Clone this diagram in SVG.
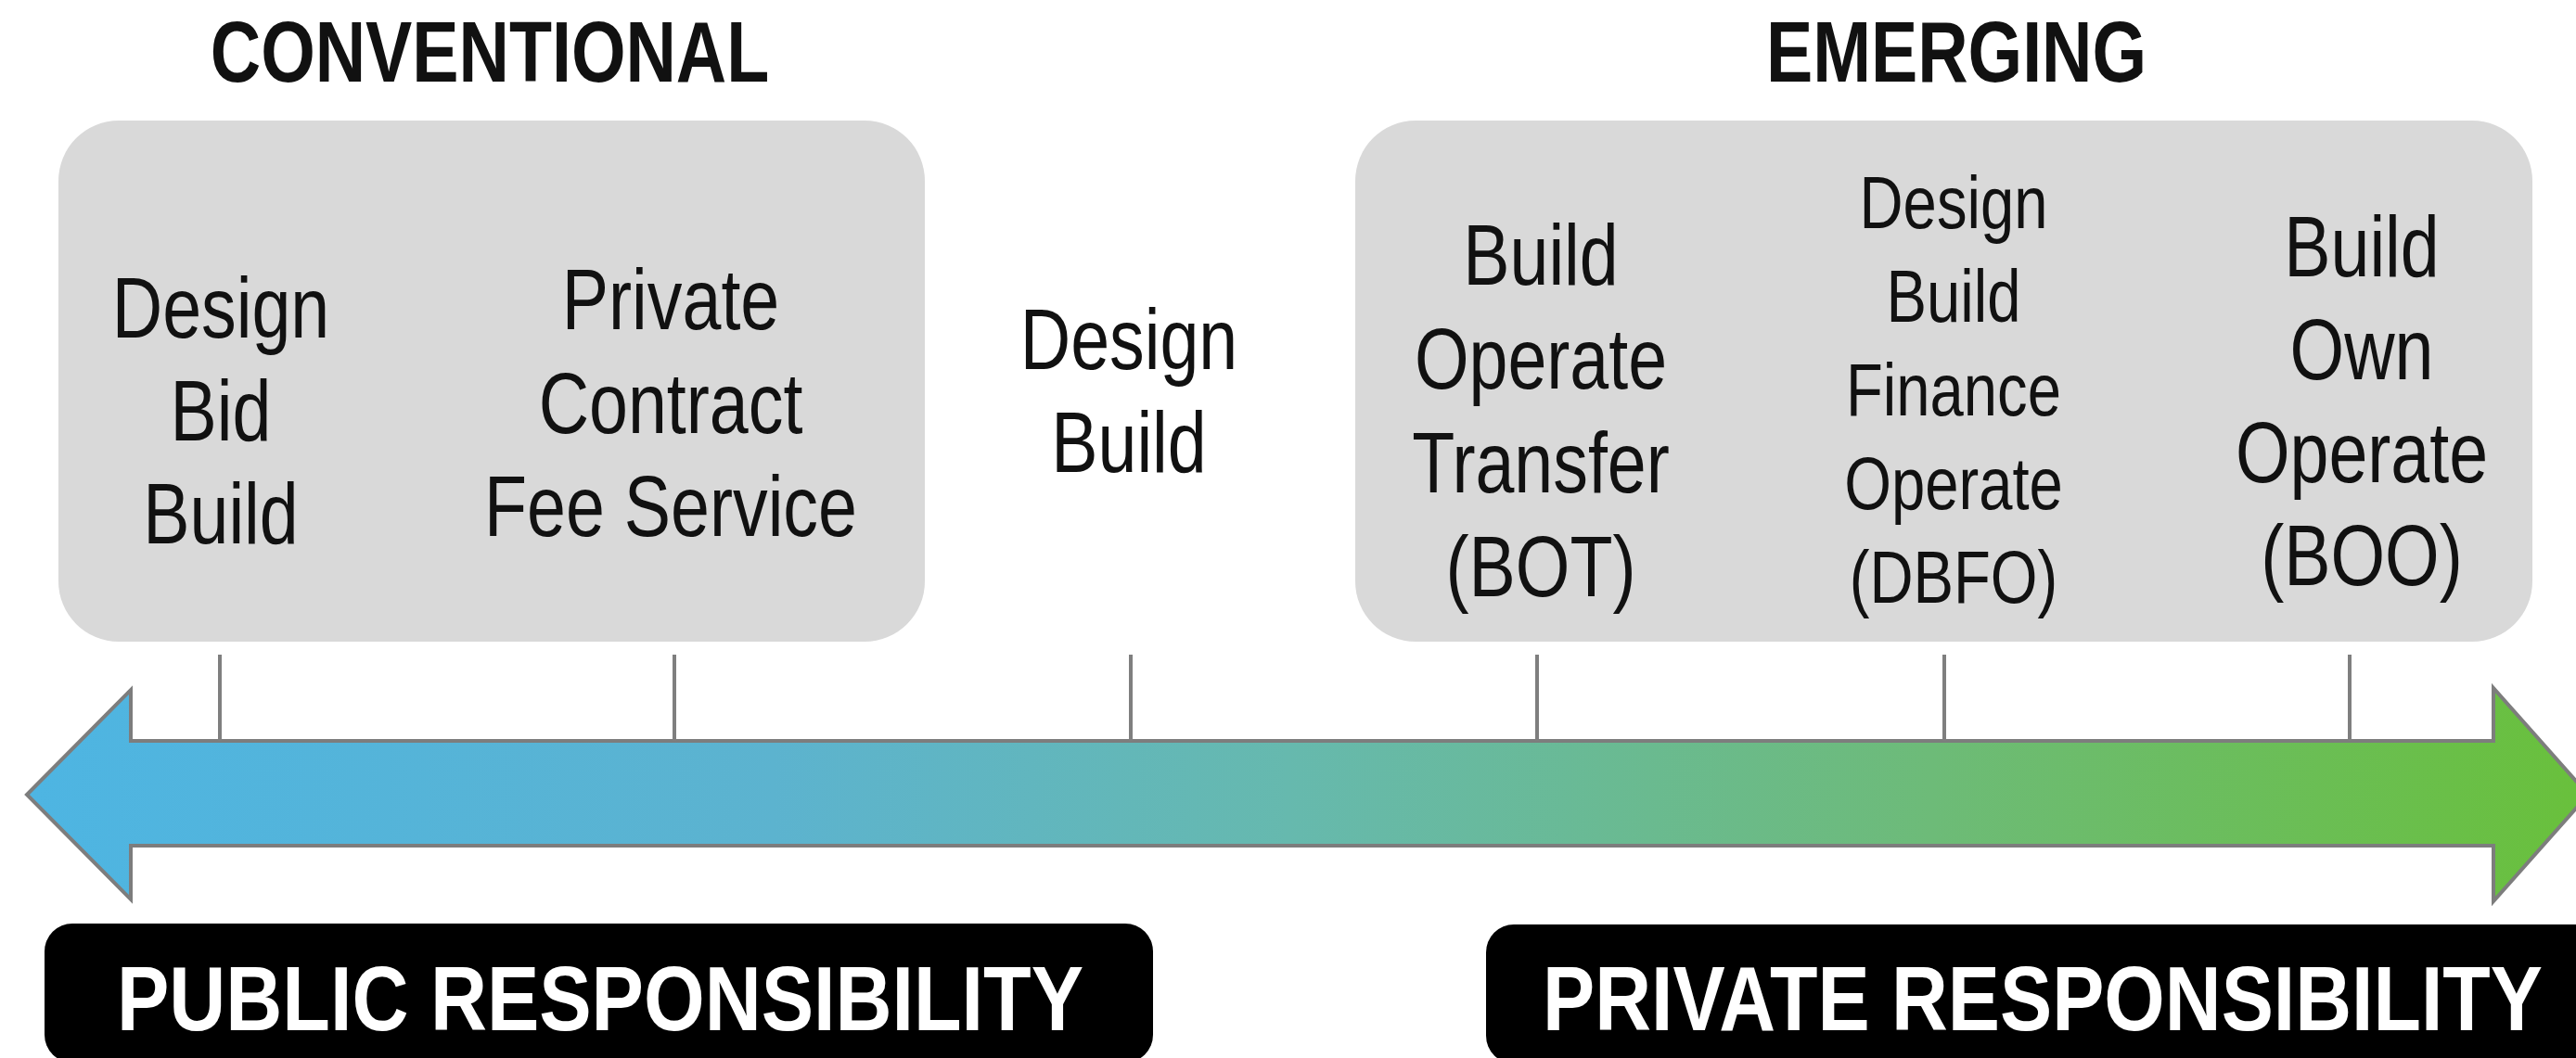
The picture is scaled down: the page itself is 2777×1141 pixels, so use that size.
<svg xmlns="http://www.w3.org/2000/svg" width="2777" height="1141" viewBox="0 0 2777 1141">
<defs>
<linearGradient id="barGrad" x1="0" y1="0" x2="2777" y2="0" gradientUnits="userSpaceOnUse">
<stop offset="0" stop-color="#4db5e3"/>
<stop offset="0.3" stop-color="#5cb3cf"/>
<stop offset="0.5" stop-color="#66b9ae"/>
<stop offset="0.75" stop-color="#6dbb78"/>
<stop offset="1" stop-color="#69c03c"/>
</linearGradient>
<style>
.box{fill:#d9d9d9}
.lbl{font-family:"Liberation Sans",Arial,sans-serif;font-size:93px;fill:#111;text-anchor:middle}
.sm{font-size:80px}
.hdr{font-family:"Liberation Sans",Arial,sans-serif;font-size:93px;font-weight:bold;fill:#111;text-anchor:middle}
.tag{fill:#000}
.tagtxt{font-family:"Liberation Sans",Arial,sans-serif;font-size:99px;font-weight:bold;fill:#fff;text-anchor:middle}
.tick{stroke:#7f7f7f;stroke-width:4;fill:none}
.bar{fill:url(#barGrad);stroke:#7d7d7d;stroke-width:4;stroke-linejoin:miter}
</style>
</defs>
<rect width="2777" height="1141" fill="#fff"/>

<g id="header-conventional" transform="translate(528 0) scale(0.81 1)">
<text class="hdr" x="0" y="88">CONVENTIONAL</text>
</g>
<g id="header-emerging" transform="translate(2109 0) scale(0.81 1)">
<text class="hdr" x="0" y="88">EMERGING</text>
</g>

<g id="group-conventional"><rect class="box" x="63" y="130" width="934" height="562" rx="65" ry="65"/></g>
<g id="group-emerging"><rect class="box" x="1461" y="130" width="1269" height="562" rx="65" ry="65"/></g>

<g id="connectors">
<path class="bar" d="M29,857 L141,744 L141,799 L2688,799 L2688,742 L2790,857 L2688,972 L2688,912 L141,912 L141,970 Z"/>
<line class="tick" x1="237" y1="706" x2="237" y2="799"/>
<line class="tick" x1="727" y1="706" x2="727" y2="799"/>
<line class="tick" x1="1219" y1="706" x2="1219" y2="799"/>
<line class="tick" x1="1657" y1="706" x2="1657" y2="799"/>
<line class="tick" x1="2096" y1="706" x2="2096" y2="799"/>
<line class="tick" x1="2533" y1="706" x2="2533" y2="799"/>
</g>

<g id="node-dbb" transform="translate(238 0) scale(0.81 1)">
<text class="lbl" x="0" y="364">Design</text>
<text class="lbl" x="0" y="475">Bid</text>
<text class="lbl" x="0" y="586">Build</text>
</g>
<g id="node-pcfs" transform="translate(723 0) scale(0.81 1)">
<text class="lbl" x="0" y="355">Private</text>
<text class="lbl" x="0" y="467">Contract</text>
<text class="lbl" x="0" y="578">Fee Service</text>
</g>
<g id="node-db" transform="translate(1217 0) scale(0.81 1)">
<text class="lbl" x="0" y="398">Design</text>
<text class="lbl" x="0" y="509">Build</text>
</g>
<g id="node-bot" transform="translate(1661 0) scale(0.81 1)">
<text class="lbl" x="0" y="307">Build</text>
<text class="lbl" x="0" y="419">Operate</text>
<text class="lbl" x="0" y="531">Transfer</text>
<text class="lbl" x="0" y="643">(BOT)</text>
</g>
<g id="node-dbfo" transform="translate(2106 0) scale(0.815 1)">
<text class="lbl sm" x="0" y="246">Design</text>
<text class="lbl sm" x="0" y="347">Build</text>
<text class="lbl sm" x="0" y="448">Finance</text>
<text class="lbl sm" x="0" y="549">Operate</text>
<text class="lbl sm" x="0" y="650">(DBFO)</text>
</g>
<g id="node-boo" transform="translate(2546 0) scale(0.81 1)">
<text class="lbl" x="0" y="298">Build</text>
<text class="lbl" x="0" y="409">Own</text>
<text class="lbl" x="0" y="520">Operate</text>
<text class="lbl" x="0" y="631">(BOO)</text>
</g>

<g id="label-public">
<rect class="tag" x="48" y="996" width="1195" height="150" rx="30" ry="30"/>
<text class="tagtxt" x="647" y="1111" textLength="1042" lengthAdjust="spacingAndGlyphs">PUBLIC RESPONSIBILITY</text>
</g>
<g id="label-private">
<rect class="tag" x="1602" y="997" width="1220" height="150" rx="30" ry="30"/>
<text class="tagtxt" x="2202" y="1111" textLength="1078" lengthAdjust="spacingAndGlyphs">PRIVATE RESPONSIBILITY</text>
</g>
</svg>
